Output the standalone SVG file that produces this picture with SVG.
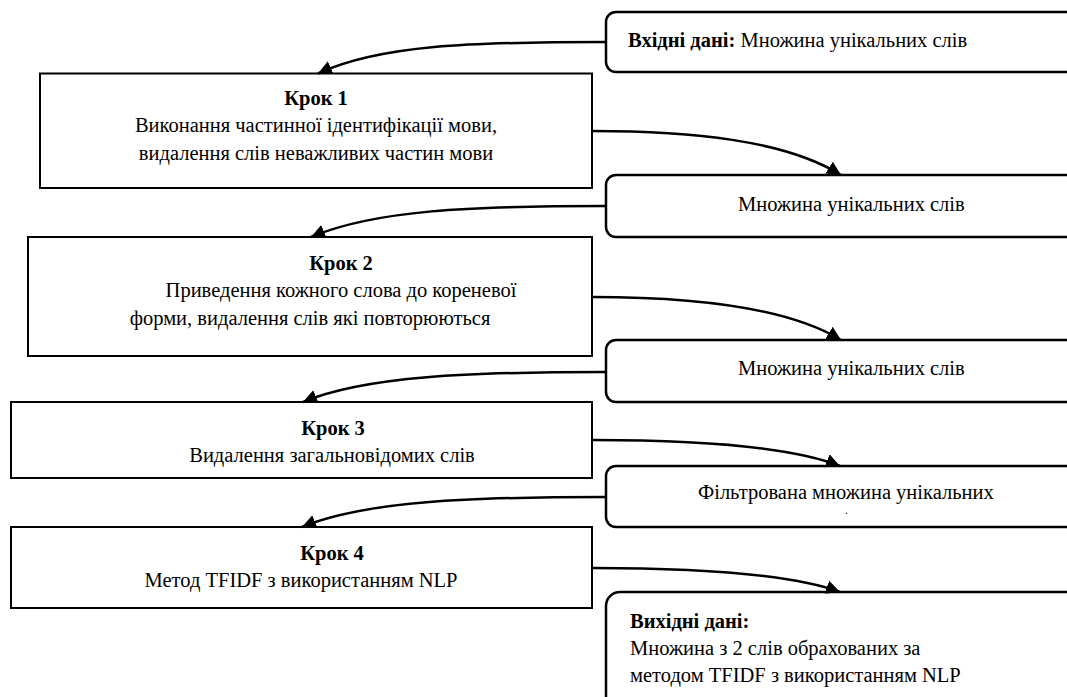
<svg xmlns="http://www.w3.org/2000/svg" width="1067" height="697" viewBox="0 0 1067 697">
<defs>
<marker id="ah" markerUnits="userSpaceOnUse" markerWidth="16" markerHeight="16" refX="14" refY="7" orient="auto">
<path d="M0,0 L14,7 L0,14 z" fill="#000"/>
</marker>
</defs>
<rect width="1067" height="697" fill="#fff"/>
<g font-family="Liberation Serif" font-size="20.5" fill="#000">
<g id="input">
<rect x="606" y="12" width="480" height="60" rx="10" fill="#fff" stroke="#000" stroke-width="2.5"/>
<text x="628" y="47"><tspan font-weight="bold">Вхідні дані:</tspan> Множина унікальних слів</text>
</g>
<g id="step1" text-anchor="middle">
<rect x="40" y="73.5" width="552" height="114.5" fill="#fff" stroke="#000" stroke-width="2"/>
<text font-weight="bold" x="316" y="105">Крок 1</text>
<text x="316" y="132">Виконання частинної ідентифікації мови,</text>
<text x="316" y="160">видалення слів неважливих частин мови</text>
</g>
<g id="set1">
<rect x="606" y="175" width="480" height="62" rx="10" fill="#fff" stroke="#000" stroke-width="2.5"/>
<text x="738" y="211">Множина унікальних слів</text>
</g>
<g id="step2" text-anchor="middle">
<rect x="28" y="237" width="564" height="119" fill="#fff" stroke="#000" stroke-width="2"/>
<text font-weight="bold" x="341" y="270">Крок 2</text>
<text x="341" y="297">Приведення кожного слова до кореневої</text>
<text x="310" y="325">форми, видалення слів які повторюються</text>
</g>
<g id="set2">
<rect x="606" y="340" width="480" height="62" rx="10" fill="#fff" stroke="#000" stroke-width="2.5"/>
<text x="738" y="375">Множина унікальних слів</text>
</g>
<g id="step3" text-anchor="middle">
<rect x="11" y="402" width="581" height="76" fill="#fff" stroke="#000" stroke-width="2"/>
<text font-weight="bold" x="333" y="435">Крок 3</text>
<text x="332" y="462">Видалення загальновідомих слів</text>
</g>
<g id="set3">
<rect x="606" y="466" width="480" height="61" rx="10" fill="#fff" stroke="#000" stroke-width="2.5"/>
<text x="698" y="499">Фільтрована множина унікальних</text>
<text x="845" y="514" font-size="12">.</text>
</g>
<g id="step4" text-anchor="middle">
<rect x="11" y="527" width="581" height="81" fill="#fff" stroke="#000" stroke-width="2"/>
<text font-weight="bold" x="332" y="560">Крок 4</text>
<text x="301" y="587">Метод TFIDF з використанням NLP</text>
</g>
<g id="output">
<rect x="606" y="592" width="480" height="130" rx="14" fill="#fff" stroke="#000" stroke-width="2.5"/>
<text font-weight="bold" x="630" y="628">Вихідні дані:</text>
<text x="630" y="655">Множина з 2 слів обрахованих за</text>
<text x="630" y="682">методом TFIDF з використанням NLP</text>
</g>
</g>
<g id="connectors" fill="none" stroke="#000" stroke-width="2.5" marker-end="url(#ah)">
<path d="M606,42 C470,42 380,45 318,73.5"/>
<path d="M592,131 C690,131 785,140 841,175"/>
<path d="M606,206 C470,206 375,210 311,237"/>
<path d="M592,297 C690,297 785,306 841,340"/>
<path d="M606,372 C470,372 365,376 303,402"/>
<path d="M592,440 C690,440 790,446 840,466"/>
<path d="M606,497 C470,497 365,501 302,527"/>
<path d="M592,568 C690,568 790,574 840,592"/>
</g>
</svg>
